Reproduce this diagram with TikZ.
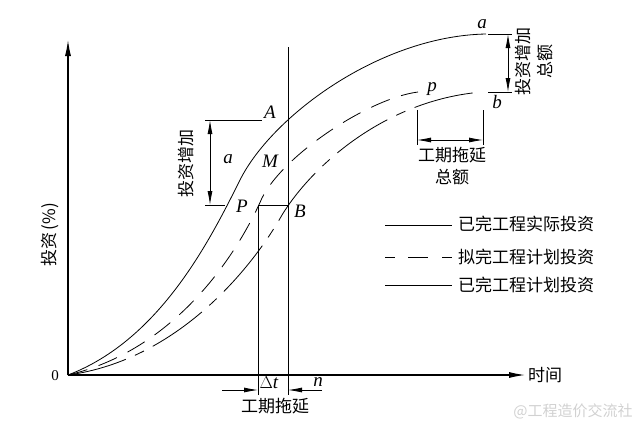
\documentclass[tikz,border=0pt]{standalone}
\usepackage{fontspec}
\setmainfont{Liberation Serif}
\newfontfamily\cjk{Noto Sans CJK SC}
\usetikzlibrary{arrows.meta}
\begin{document}
\begin{tikzpicture}[x=1pt,y=-1pt,
  cn/.style={font=\cjk\fontsize{17}{22}\selectfont, inner sep=0pt},
  lt/.style={font=\fontsize{19}{22}\selectfont\itshape, inner sep=0pt},
  thinln/.style={line width=0.8pt},
  axisln/.style={line width=1.1pt},
  dimln/.style={line width=0.8pt, {Latex[length=14pt,width=5pt]}-{Latex[length=14pt,width=5pt]}},
  oneway/.style={line width=0.8pt, -{Latex[length=14pt,width=5pt]}},
  plandash/.style={thinln, dash pattern=on 20pt off 12pt},
  donedash/.style={thinln, dash pattern=on 60pt off 10pt on 10pt off 10pt}
]
\useasboundingbox (0,0) rectangle (643,429);

% axes
\coordinate (O) at (68,375);
\coordinate (ytop) at (68,40);
\coordinate (xend) at (525,375);
\draw[axisln, -{Latex[length=16pt,width=6pt]}] (O) -- (ytop);
\draw[axisln, -{Latex[length=16pt,width=6pt]}] (O) -- (xend);
\node[font=\fontsize{15}{18}\selectfont, inner sep=0pt] (zero) at (55,376) {0};
\node[cn] (time) at (545,375) {时间};
\node[cn, rotate=90] (yl) at (50,235) {投资\,(\%)};

% curves
\coordinate (ia) at (486,34);
\coordinate (ip) at (418,92);
\coordinate (ib) at (482,92);
\draw[thinln] (O) .. controls (160,340) and (210,240) .. (240,180)
              .. controls (272,116) and (380,36) .. (ia);
\draw[plandash] (O) .. controls (175,350) and (237,255) .. (262,198)
              .. controls (284,154) and (370,98) .. (ip);
\draw[donedash] (O) .. controls (178,360) and (252,268) .. (282,215)
              .. controls (312,166) and (385,100) .. (ib);

% vertical line at t and square
\coordinate (vt) at (288,47);
\coordinate (vb) at (288,395);
\draw[thinln] (vt) -- (vb);
\coordinate (Pc) at (258,205);
\coordinate (Bc) at (288,205);
\coordinate (pb) at (258,395);
\draw[thinln] (pb) -- (Pc) -- (Bc);

% labels on the curves
\node[lt] (A) at (270,112) {A};
\node[lt] (M) at (270,161) {M};
\node[lt] (P) at (242,206) {P};
\node[lt] (B) at (300,211) {B};
\node[lt] (al) at (228,159) {a};
\node[lt] (at) at (482,24) {a};
\node[lt] (pp) at (432,89) {p};
\node[lt] (bb) at (497,102) {b};

% left dimension: investment increase
\coordinate (e1a) at (205,120); \coordinate (e1b) at (262,120);
\coordinate (e2a) at (205,205); \coordinate (e2b) at (225,205);
\draw[thinln] (e1a) -- (e1b);
\draw[thinln] (e2a) -- (e2b);
\coordinate (d1t) at (210,120); \coordinate (d1b) at (210,205);
\draw[dimln] (d1t) -- (d1b);
\node[cn, rotate=90] (inc) at (186,163) {投资增加};

% right dimension: total investment increase
\coordinate (r1a) at (488,34); \coordinate (r1b) at (512,34);
\coordinate (r2a) at (488,92); \coordinate (r2b) at (512,92);
\draw[thinln] (r1a) -- (r1b);
\draw[thinln] (r2a) -- (r2b);
\coordinate (d2t) at (508,34); \coordinate (d2b) at (508,92);
\draw[dimln] (d2t) -- (d2b);
\node[cn, rotate=90, align=center] (incall) at (534,61) {投资增加\\总额};

% total delay dimension
\coordinate (t1a) at (417,110); \coordinate (t1b) at (417,145);
\coordinate (t2a) at (483,110); \coordinate (t2b) at (483,145);
\draw[thinln] (t1a) -- (t1b);
\draw[thinln] (t2a) -- (t2b);
\coordinate (d3l) at (417,140); \coordinate (d3r) at (483,140);
\draw[dimln] (d3l) -- (d3r);
\node[cn, align=center] (delayall) at (452,166) {工期拖延\\总额};

% bottom delay dimension
\coordinate (bl0) at (222,390); \coordinate (bl1) at (258,390);
\coordinate (br0) at (322,390); \coordinate (br1) at (288,390);
\draw[oneway] (bl0) -- (bl1);
\draw[oneway] (br0) -- (br1);
\node[font=\fontsize{19}{22}\selectfont, inner sep=0pt] (dt) at (269,383) {$\Delta$\textit{t}};
\node[lt] (nn) at (318,382) {n};
\node[cn] (delay) at (275,406) {工期拖延};

% legend
\coordinate (l1a) at (385,225); \coordinate (l1b) at (452,225);
\coordinate (l2a) at (385,257); \coordinate (l2b) at (452,257);
\coordinate (l3a) at (385,285); \coordinate (l3b) at (452,285);
\draw[thinln] (l1a) -- (l1b);
\draw[thinln, dash pattern=on 10pt off 13pt on 20pt off 14pt on 10pt off 50pt] (l2a) -- (l2b);
\draw[thinln] (l3a) -- (l3b);
\node[cn, anchor=west] (lg1) at (458,224) {已完工程实际投资};
\node[cn, anchor=west] (lg2) at (458,257) {拟完工程计划投资};
\node[cn, anchor=west] (lg3) at (458,285) {已完工程计划投资};

% watermark
\node[font=\cjk\fontsize{15}{18}\selectfont, text=black!18, inner sep=0pt] (wm) at (573,411) {@工程造价交流社};
\end{tikzpicture}
\end{document}
